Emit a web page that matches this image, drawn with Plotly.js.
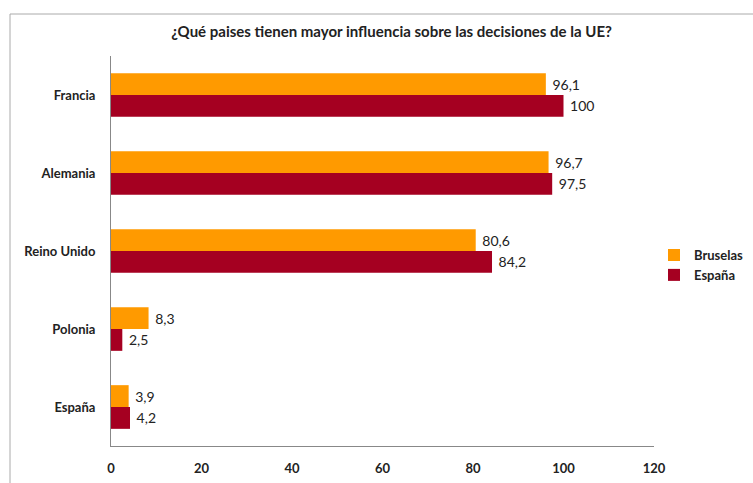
<!DOCTYPE html>
<html>
<head>
<meta charset="utf-8">
<script src="https://cdn.plot.ly/plotly-3.0.1.min.js"></script>
<style>html,body{margin:0;padding:0;background:#fff;}#chart{width:753px;height:483px;}</style>
</head>
<body>
<div id="chart"></div>
<script>
const categories = ['Francia', 'Alemania', 'Reino Unido', 'Polonia', 'España'];
const bruselas = [96.1, 96.7, 80.6, 8.3, 3.9];
const espana = [100, 97.5, 84.2, 2.5, 4.2];
const xTicks = [0, 20, 40, 60, 80, 100, 120];
const seriesNames = ['Bruselas', 'España'];

const fmt = v => '\u00a0' + String(v).replace('.', ',');
const FONT = 'Lato, "Open Sans", sans-serif';

const traces = [
  {
    type: 'bar', orientation: 'h', name: seriesNames[0],
    y: categories, x: bruselas, text: bruselas.map(fmt),
    textposition: 'outside', cliponaxis: false,
    textfont: {family: FONT, size: 14, color: '#222'},
    marker: {color: '#FF9A00'}, hoverinfo: 'x+y'
  },
  {
    type: 'bar', orientation: 'h', name: seriesNames[1],
    y: categories, x: espana, text: espana.map(fmt),
    textposition: 'outside', cliponaxis: false,
    textfont: {family: FONT, size: 14, color: '#222'},
    marker: {color: '#A50021'}, hoverinfo: 'x+y'
  }
];

const layout = {
  width: 753, height: 483,
  margin: {l: 111, r: 99, t: 56, b: 37, pad: 0, autoexpand: false},
  paper_bgcolor: '#fff', plot_bgcolor: '#fff',
  font: {family: FONT, size: 13, color: '#222'},
  title: {text: '<b>¿Qué paises tienen mayor influencia sobre las decisiones de la UE?</b>',
          font: {family: FONT, size: 15, color: '#222'}, x: 0.52, xanchor: 'center', y: 0.935, yanchor: 'middle'},
  barmode: 'group', bargap: 0.44, bargroupgap: 0,
  showlegend: true,
  legend: {x: 1.0, y: 0.464, xanchor: 'left', yanchor: 'middle',
           font: {family: FONT, size: 13, color: '#222', weight: 'bold'},
           itemwidth: 30, tracegroupgap: 2, traceorder: 'normal'},
  xaxis: {range: [0, 120], tickvals: xTicks, ticktext: xTicks.map(String),
          showgrid: false, zeroline: false, showline: true, linecolor: '#888', linewidth: 1,
          ticks: '', ticklabelstandoff: 10,
          tickfont: {family: FONT, size: 13, color: '#222', weight: 'bold'}, fixedrange: true},
  yaxis: {autorange: 'reversed', showgrid: false, zeroline: false, showline: true,
          linecolor: '#888', linewidth: 1, ticks: '', ticklabelstandoff: 12,
          tickfont: {family: FONT, size: 13, color: '#222', weight: 'bold'}, fixedrange: true},
  shapes: [{type: 'rect', xref: 'paper', yref: 'paper',
            x0: (10 - 111) / 543, x1: (800 - 111) / 543,
            y0: (483 - 37 - 530) / 390, y1: (483 - 37 - 14) / 390,
            line: {color: '#aaa', width: 1}, fillcolor: 'rgba(0,0,0,0)', layer: 'below'}]
};

Plotly.newPlot('chart', traces, layout, {displayModeBar: false, staticPlot: true});
</script>
</body>
</html>
